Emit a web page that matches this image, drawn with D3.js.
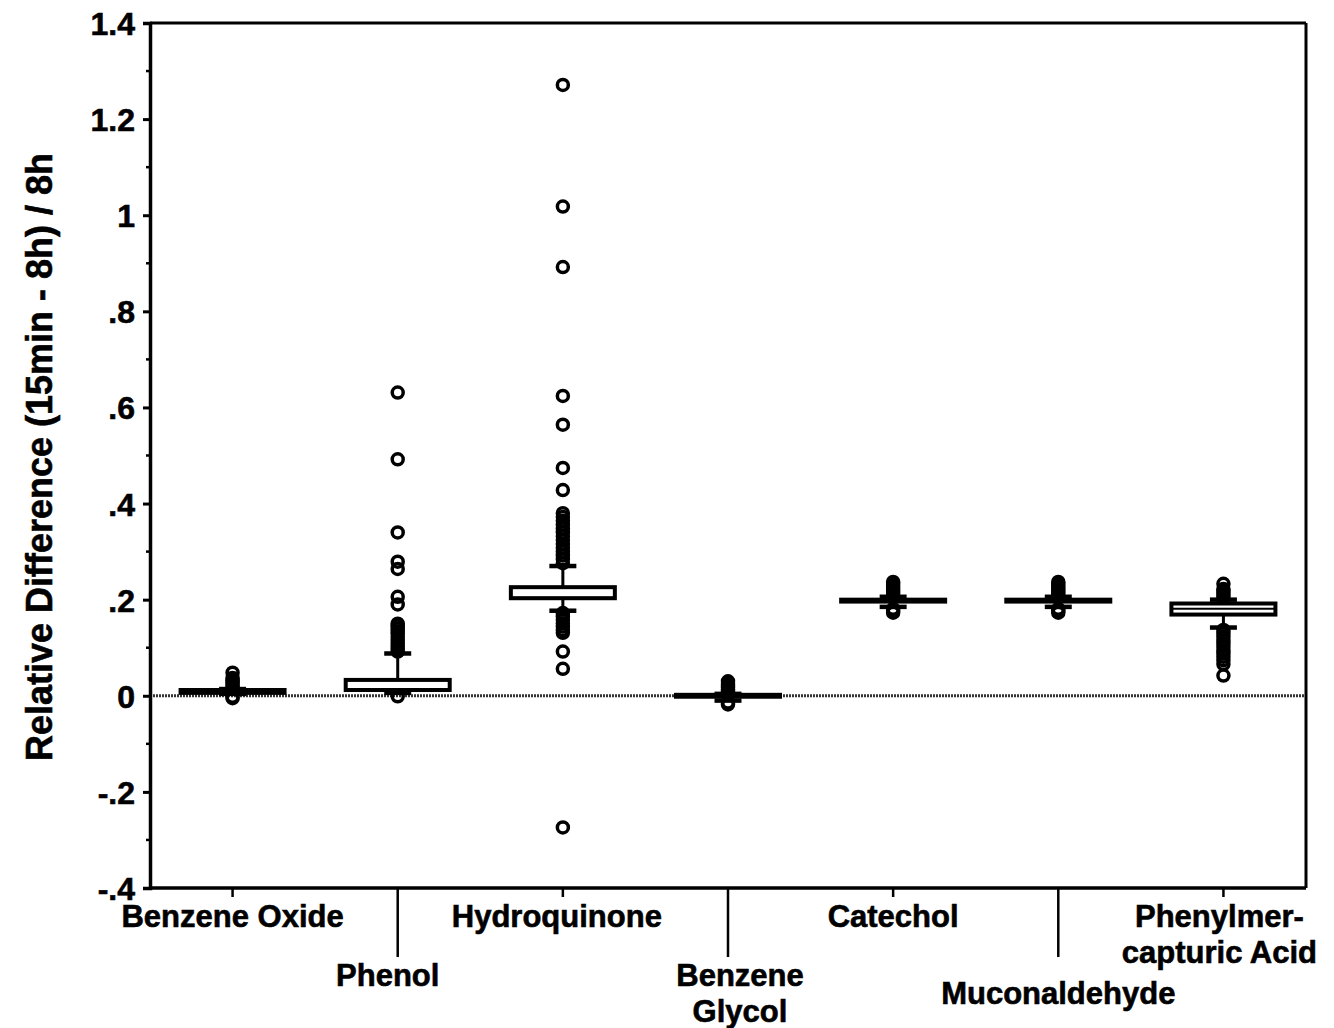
<!DOCTYPE html>
<html>
<head>
<meta charset="utf-8">
<script src="https://cdn.jsdelivr.net/npm/d3@7"></script>
<style>
  body { margin: 0; background: #fff; }
  text { font-family: "Liberation Sans", Arial, sans-serif; font-weight: bold; fill: #000; stroke: #000; stroke-width: 0.6px; }
</style>
</head>
<body>
<div id="chart-area"></div>
<script>
// data
let categories = ["Benzene Oxide", "Phenol", "Hydroquinone", "Benzene Glycol", "Catechol", "Muconaldehyde", "Phenylmercapturic Acid"];
let labelLines = [["Benzene Oxide"], ["Phenol"], ["Hydroquinone"], ["Benzene", "Glycol"], ["Catechol"], ["Muconaldehyde"], ["Phenylmer-", "capturic Acid"]];

let q1 = [0.006, 0.012, 0.203, -0.002, 0.196, 0.196, 0.169];
let medians = [0.009, 0.013, 0.204, 0.0, 0.198, 0.198, 0.181];
let q3 = [0.012, 0.033, 0.226, 0.002, 0.200, 0.200, 0.192];
let whiskerLow = [0.004, 0.006, 0.177, -0.010, 0.185, 0.185, 0.142];
let whiskerHigh = [0.014, 0.088, 0.270, 0.004, 0.206, 0.206, 0.200];
let outliers = [
  [0.048, 0.037, 0.032, 0.028, 0.024, 0.020, 0.016, -0.002, -0.005],
  [0.092, 0.098, 0.104, 0.110, 0.116, 0.122, 0.128, 0.134, 0.140, 0.146, 0.150, 0.190, 0.206, 0.264, 0.279, 0.340, 0.492, 0.631, -0.001],
  [0.276, 0.284, 0.292, 0.300, 0.308, 0.316, 0.324, 0.332, 0.340, 0.348, 0.356, 0.364, 0.372, 0.380, 0.428, 0.474, 0.564, 0.624, 0.892, 1.018, 1.271,
   0.172, 0.165, 0.158, 0.151, 0.144, 0.137, 0.131, 0.092, 0.056, -0.274],
  [0.030, 0.025, 0.021, 0.017, 0.013, 0.009, 0.006, -0.014, -0.018],
  [0.212, 0.216, 0.220, 0.224, 0.228, 0.232, 0.237, 0.181, 0.177, 0.173],
  [0.212, 0.216, 0.220, 0.224, 0.228, 0.232, 0.237, 0.181, 0.177, 0.173],
  [0.205, 0.211, 0.217, 0.222, 0.233, 0.137, 0.130, 0.123, 0.116, 0.109, 0.102, 0.095, 0.088, 0.081, 0.074, 0.066, 0.042]
];

let yTicks = [1.4, 1.2, 1, 0.8, 0.6, 0.4, 0.2, 0, -0.2, -0.4];
let yTickLabels = ["1.4", "1.2", "1", ".8", ".6", ".4", ".2", "0", "-.2", "-.4"];
let yMinor = [1.3, 1.1, 0.9, 0.7, 0.5, 0.3, 0.1, -0.1, -0.3];

// layout
let W = 1334, H = 1028;
let mLeft = 150, mRight = 1306, mTop = 23, mBottom = 888;
let labelBase = [927, 986, 927, 986, 927, 1004, 927];
let labelDx = [0, -10, -6, 12, 0, 0, -4];
let lineGap = 36;

let svg = d3.select("#chart-area")
  .append("svg")
  .attr("width", W)
  .attr("height", H);

let x = d3.scaleBand()
  .domain(categories)
  .range([mLeft, mRight]);

let y = d3.scaleLinear()
  .domain([-0.4, 1.4])
  .range([mBottom, mTop]);

let cx = function(i) { return x(categories[i]) + x.bandwidth() / 2; };

// zero reference line
svg.append("line")
  .attr("x1", mLeft).attr("x2", mRight)
  .attr("y1", y(0)).attr("y2", y(0))
  .attr("stroke", "#333")
  .attr("stroke-width", 3)
  .attr("stroke-dasharray", "2,1");

// frame
svg.append("line").attr("x1", mLeft).attr("x2", mRight).attr("y1", mTop).attr("y2", mTop)
  .attr("stroke", "#000").attr("stroke-width", 3);
svg.append("line").attr("x1", mRight).attr("x2", mRight).attr("y1", mTop).attr("y2", mBottom)
  .attr("stroke", "#000").attr("stroke-width", 3);

// y axis
let yAxis = d3.axisLeft(y)
  .tickValues(yTicks)
  .tickFormat(function(d, i) { return yTickLabels[i]; })
  .tickSize(7)
  .tickPadding(8);
let gy = svg.append("g")
  .attr("transform", "translate(" + mLeft + ",0)")
  .call(yAxis);
gy.select(".domain").attr("stroke-width", 3.5);
gy.selectAll(".tick line").attr("stroke-width", 3);
gy.selectAll(".tick text")
  .attr("font-size", 32)
  .attr("font-family", "Liberation Sans, Arial, sans-serif")
  .attr("font-weight", "bold")
  .attr("dy", "0.36em");

svg.append("g")
  .selectAll("line")
  .data(yMinor)
  .enter()
  .append("line")
  .attr("x1", mLeft - 4).attr("x2", mLeft)
  .attr("y1", function(d) { return y(d); })
  .attr("y2", function(d) { return y(d); })
  .attr("stroke", "#000")
  .attr("stroke-width", 2.5);

// x axis
svg.append("line").attr("x1", mLeft).attr("x2", mRight).attr("y1", mBottom).attr("y2", mBottom)
  .attr("stroke", "#000").attr("stroke-width", 3.5);
svg.append("g")
  .selectAll("line")
  .data(categories)
  .enter()
  .append("line")
  .attr("x1", function(d, i) { return cx(i); })
  .attr("x2", function(d, i) { return cx(i); })
  .attr("y1", mBottom)
  .attr("y2", function(d, i) { return i % 2 ? 957 : 897; })
  .attr("stroke", "#000")
  .attr("stroke-width", 2.5);

labelLines.forEach(function(lines, i) {
  let t = svg.append("text")
    .attr("text-anchor", "middle")
    .attr("font-size", 31)
    .attr("x", cx(i) + labelDx[i])
    .attr("y", labelBase[i]);
  lines.forEach(function(s, k) {
    t.append("tspan")
      .attr("x", cx(i) + labelDx[i])
      .attr("y", labelBase[i] + k * lineGap)
      .text(s);
  });
});

// y title
svg.append("text")
  .attr("text-anchor", "middle")
  .attr("font-size", 36)
  .attr("transform", "translate(52," + 457 + ") rotate(-90)")
  .text("Relative Difference (15min - 8h) / 8h");

// boxes
let boxW = 104, capW = 27;
let g = svg.append("g");

categories.forEach(function(c, i) {
  let xc = cx(i);
  // whiskers
  g.append("line")
    .attr("x1", xc).attr("x2", xc)
    .attr("y1", y(q3[i])).attr("y2", y(whiskerHigh[i]))
    .attr("stroke", "#000").attr("stroke-width", 3);
  g.append("line")
    .attr("x1", xc).attr("x2", xc)
    .attr("y1", y(q1[i])).attr("y2", y(whiskerLow[i]))
    .attr("stroke", "#000").attr("stroke-width", 3);
  [whiskerHigh[i], whiskerLow[i]].forEach(function(v) {
    g.append("line")
      .attr("x1", xc - capW / 2).attr("x2", xc + capW / 2)
      .attr("y1", y(v)).attr("y2", y(v))
      .attr("stroke", "#000").attr("stroke-width", 4.5);
  });
  // box
  g.append("rect")
    .attr("x", xc - boxW / 2)
    .attr("y", y(q3[i]))
    .attr("width", boxW)
    .attr("height", y(q1[i]) - y(q3[i]))
    .attr("fill", "#fff")
    .attr("stroke", "#000")
    .attr("stroke-width", 4);
  g.append("line")
    .attr("x1", xc - boxW / 2).attr("x2", xc + boxW / 2)
    .attr("y1", y(medians[i])).attr("y2", y(medians[i]))
    .attr("stroke", "#000").attr("stroke-width", 2);
  // outliers
  g.selectAll(null)
    .data(outliers[i])
    .enter()
    .append("circle")
    .attr("cx", xc)
    .attr("cy", function(d) { return y(d); })
    .attr("r", 5.5)
    .attr("fill", "none")
    .attr("stroke", "#000")
    .attr("stroke-width", 3.5);
});
</script>
</body>
</html>
